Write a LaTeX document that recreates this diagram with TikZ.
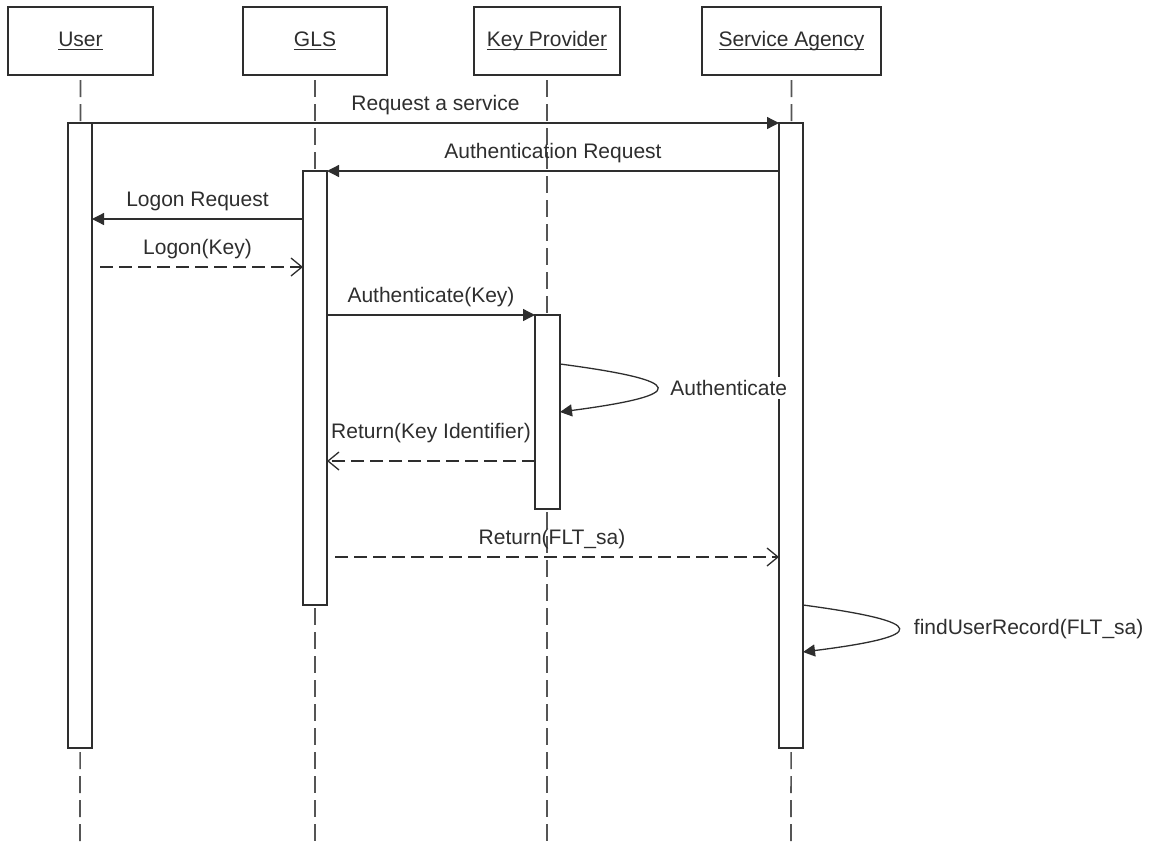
\documentclass[tikz,border=0pt]{standalone}
\usepackage{fontspec}
\setmainfont{Liberation Sans}
\usetikzlibrary{arrows.meta}
\definecolor{ink}{HTML}{2E2E2E}
\definecolor{lifegray}{HTML}{555555}
% underline at a fixed depth below the baseline
\newcommand{\headname}[1]{{\setbox0\hbox{#1}\rlap{\rule[-3.5pt]{\wd0}{1.2pt}}\box0}}
\begin{document}
\begin{tikzpicture}[x=1pt,y=-1pt,
  font=\fontsize{21}{25}\selectfont, text=ink,
  head/.style={draw=ink, line width=1.8pt, fill=white, minimum height=68pt,
    inner sep=0pt, outer sep=0pt},
  act/.style={draw=ink, line width=1.5pt, fill=white, minimum width=24pt,
    inner sep=0pt, outer sep=0pt, anchor=north},
  lifeline/.style={draw=lifegray, line width=1.6pt, dash pattern=on 17pt off 7pt},
  call/.style={draw=ink, line width=1.3pt, -{Triangle[length=12pt,width=12pt]}},
  reply/.style={draw=ink, line width=1.3pt, dash pattern=on 13pt off 6pt,
    -{Straight Barb[length=11pt,width=18pt,line width=1.3pt]}},
  lbl/.style={midway, anchor=base, inner sep=0pt, yshift=13pt},
  selflbl/.style={pos=0.5, anchor=west, inner sep=0pt}
]
\useasboundingbox (0,0) rectangle (1156,846);

% participants
\node[head, minimum width=145pt] (user) at (80.5,41)  {\headname{User}};
\node[head, minimum width=144pt] (gls)  at (315,41)   {\headname{GLS}};
\node[head, minimum width=146pt] (kp)   at (547,41)   {\headname{Key Provider}};
\node[head, minimum width=179pt] (sa)   at (791.5,41) {\headname{Service Agency}};

% lifeline ends
\coordinate (userend) at (80,846);
\coordinate (glsend)  at (315,846);
\coordinate (kpend)   at (547,846);
\coordinate (saend)   at (791,846);

\draw[lifeline] ([yshift=-5pt]user.south) -- (userend);
\draw[lifeline] ([yshift=-5pt]gls.south)  -- (glsend);
\draw[lifeline] ([yshift=-5pt]kp.south)   -- (kpend);
\draw[lifeline] ([yshift=-5pt]sa.south)   -- (saend);

% activation bars
\node[act, minimum height=625pt] (uact) at (80,123)    {};
\node[act, minimum height=434pt] (gact) at (315,171)   {};
\node[act, minimum height=194pt, minimum width=25pt] (kact) at (547.5,315) {};
\node[act, minimum height=625pt] (sact) at (791,123)   {};

% messages
\draw[call] (uact.north east) -- (sact.north west)
  node[lbl] {Request a service};
\draw[call] (sact.west |- gact.north) -- (gact.north east)
  node[lbl] {Authentication Request};
\draw[call] (gact.west |- 0,219) -- (uact.east |- 0,219)
  node[lbl] {Logon Request};
\coordinate (logonstart) at (100,267);
\draw[reply] (logonstart) -- (gact.west |- logonstart)
  node[lbl, xshift=-4pt] {Logon(Key)};
\draw[call] (gact.east |- kact.north) -- (kact.north west)
  node[lbl] {Authenticate(Key)};
\draw[call] (kact.east |- 0,364) .. controls (689,381) and (689,395) .. (kact.east |- 0,412)
  node[selflbl, fill=white, inner xsep=5pt, inner ysep=3pt, xshift=8pt] {Authenticate};
\draw[reply] (kact.west |- 0,461) -- (gact.east |- 0,461)
  node[lbl, yshift=10pt] {Return(Key Identifier)};
\coordinate (flstart) at (335,557);
\draw[reply] (flstart) -- (sact.west |- flstart)
  node[lbl, xshift=-5pt] {Return(FLT\_sa)};
\draw[call] (sact.east |- 0,605) .. controls (930,622) and (930,636) .. (sact.east |- 0,652)
  node[selflbl, xshift=15pt] {findUserRecord(FLT\_sa)};
\end{tikzpicture}
\end{document}
